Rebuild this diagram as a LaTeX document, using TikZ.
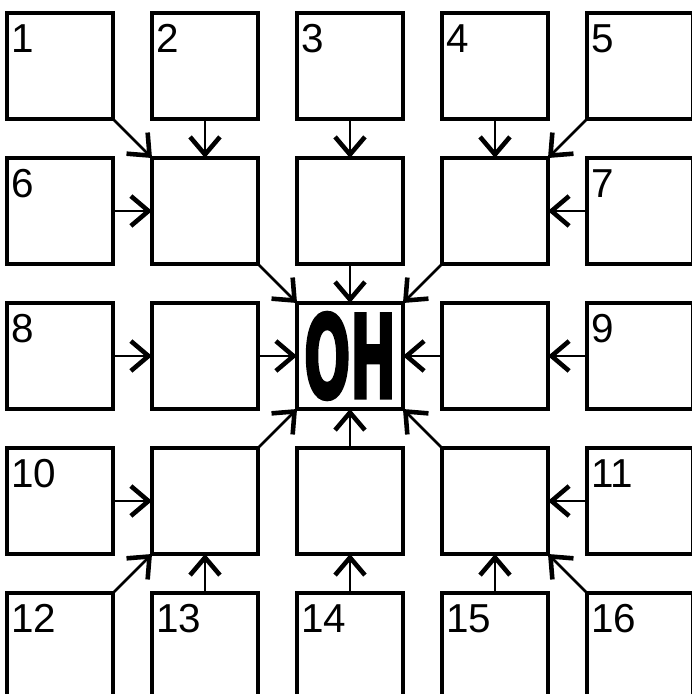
\documentclass[tikz,border=0pt]{standalone}
\usepackage{fontspec}
\usepackage{graphicx}
\usepackage{tikz}
\usetikzlibrary{arrows.meta}
\newfontfamily\numfont{Liberation Sans}
\newfontfamily\ohfont[FakeBold=3.5]{DejaVu Sans}

\begin{document}
\begin{tikzpicture}[
  box/.style={draw, line width=2pt, minimum size=2.12cm, inner sep=0pt, outer sep=0pt},
  num/.style={anchor=north west, inner sep=0pt, xshift=0.08cm, yshift=-0.22cm, font=\numfont\fontsize{23}{23}\selectfont},
  arr/.style={line width=1.5pt, -{Straight Barb[length=10pt,width=17pt,line width=2.6pt]}}]
\useasboundingbox (0,0) rectangle (13.82,-13.88);
%%% outer ring %%%%
%% boxes
\node[box, label={[num]north west:1}] (p1) at (1.2,-1.32) {};
\node[box, label={[num]north west:2}] (p2) at (4.1,-1.32) {};
\node[box, label={[num]north west:3}] (p3) at (7.0,-1.32) {};
\node[box, label={[num]north west:4}] (p4) at (9.9,-1.32) {};
\node[box, label={[num]north west:5}] (p5) at (12.8,-1.32) {};
\node[box, label={[num]north west:6}] (p6) at (1.2,-4.22) {};
\node[box, label={[num]north west:7}] (p7) at (12.8,-4.22) {};
\node[box, label={[num]north west:8}] (p8) at (1.2,-7.12) {};
\node[box, label={[num]north west:9}] (p9) at (12.8,-7.12) {};
\node[box, label={[num]north west:10}] (p10) at (1.2,-10.02) {};
\node[box, label={[num]north west:11}] (p11) at (12.8,-10.02) {};
\node[box, label={[num]north west:12}] (p12) at (1.2,-12.92) {};
\node[box, label={[num]north west:13}] (p13) at (4.1,-12.92) {};
\node[box, label={[num]north west:14}] (p14) at (7.0,-12.92) {};
\node[box, label={[num]north west:15}] (p15) at (9.9,-12.92) {};
\node[box, label={[num]north west:16}] (p16) at (12.8,-12.92) {};

%%% inner ring %%%%
%% boxes
\node[box] (q1) at (4.1,-4.22) {};
\node[box] (q2) at (7.0,-4.22) {};
\node[box] (q3) at (9.9,-4.22) {};
\node[box] (q4) at (4.1,-7.12) {};
\node[box] (q5) at (9.9,-7.12) {};
\node[box] (q6) at (4.1,-10.02) {};
\node[box] (q7) at (7.0,-10.02) {};
\node[box] (q8) at (9.9,-10.02) {};

%% centre
\node[box] (oh) at (7.0,-7.12) {\resizebox{1.84cm}{1.7cm}{\ohfont\bfseries OH}};

%% edges
\draw[arr] (p1) -- (q1);
\draw[arr] (p2) -- (q1);
\draw[arr] (p3) -- (q2);
\draw[arr] (p4) -- (q3);
\draw[arr] (p5) -- (q3);
\draw[arr] (p6) -- (q1);
\draw[arr] (p7) -- (q3);
\draw[arr] (p8) -- (q4);
\draw[arr] (p9) -- (q5);
\draw[arr] (p10) -- (q6);
\draw[arr] (p11) -- (q8);
\draw[arr] (p12) -- (q6);
\draw[arr] (p13) -- (q6);
\draw[arr] (p14) -- (q7);
\draw[arr] (p15) -- (q8);
\draw[arr] (p16) -- (q8);

%% edges1
\draw[arr] (q1) -- (oh);
\draw[arr] (q2) -- (oh);
\draw[arr] (q3) -- (oh);
\draw[arr] (q4) -- (oh);
\draw[arr] (q5) -- (oh);
\draw[arr] (q6) -- (oh);
\draw[arr] (q7) -- (oh);
\draw[arr] (q8) -- (oh);

\end{tikzpicture}
\end{document}
